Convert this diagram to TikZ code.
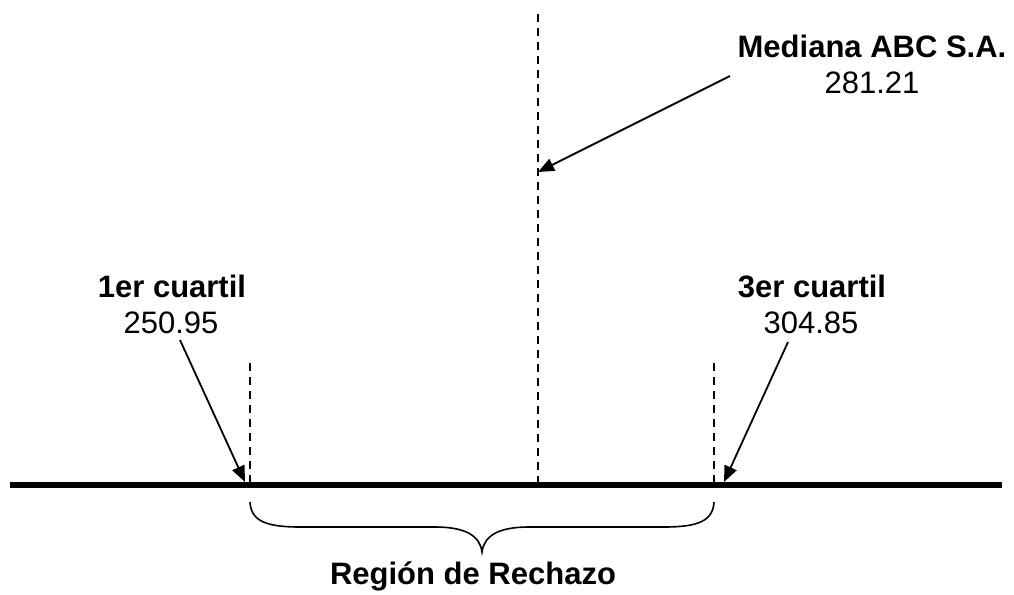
\documentclass[tikz,border=0pt]{standalone}
\usepackage{fontspec}
\setmainfont{Liberation Sans}
\usetikzlibrary{arrows.meta}
\begin{document}
\begin{tikzpicture}[x=1pt,y=-1pt,
  lbl/.style={anchor=base,inner sep=0pt,font=\fontsize{31}{36}\selectfont},
  lblb/.style={lbl,font=\fontsize{31}{36}\selectfont\bfseries},
  guide/.style={line width=1.6pt,dash pattern=on 8pt off 6pt},
  axis/.style={line width=6pt},
  pointer/.style={line width=1.8pt,-{Triangle[length=16pt,width=13pt]}},
  bracepath/.style={line width=1.6pt}]
\useasboundingbox (0,0) rectangle (1014,594);
% axis
\coordinate (axL) at (10,485);
\coordinate (axR) at (1002,485);
\draw[axis] (axL) -- (axR);
% guides
\coordinate (mTop) at (538,14);
\coordinate (mBot) at (538,485);
\coordinate (q1Top) at (250,363);
\coordinate (q1Bot) at (250,485);
\coordinate (q3Top) at (714,363);
\coordinate (q3Bot) at (714,485);
\draw[guide] (mTop) -- (mBot);
\draw[guide] (q1Top) -- (q1Bot);
\draw[guide] (q3Top) -- (q3Bot);
% labels
\node[lblb] (medT) at (872,57) {Mediana ABC S.A.};
\node[lbl] (medV) at (872,93) {281.21};
\node[lblb] (q1T) at (172,297) {1er cuartil};
\node[lbl] (q1V) at (171,333) {250.95};
\node[lblb] (q3T) at (812,297) {3er cuartil};
\node[lbl] (q3V) at (811,333) {304.85};
% pointers
\coordinate (mS) at (730,76);
\coordinate (mE) at (538,172);
\coordinate (q1S) at (180,340);
\coordinate (q1E) at (245,482);
\coordinate (q3S) at (788,342);
\coordinate (q3E) at (724,482);
\draw[pointer] (mS) -- (mE);
\draw[pointer] (q1S) -- (q1E);
\draw[pointer] (q3S) -- (q3E);
% brace
\coordinate (bL) at (250,502);
\coordinate (bTip) at (482,552);
\coordinate (bR) at (714,502);
\draw[bracepath] (bL) .. controls (251,521) and (266,527) .. (300,527) -- (435,527)
  .. controls (466,527) and (480,536) .. (bTip)
  .. controls (484,536) and (498,527) .. (529,527) -- (664,527)
  .. controls (698,527) and (713,521) .. (bR);
\node[lblb] (reg) at (473,584) {Región de Rechazo};
\end{tikzpicture}
\end{document}
